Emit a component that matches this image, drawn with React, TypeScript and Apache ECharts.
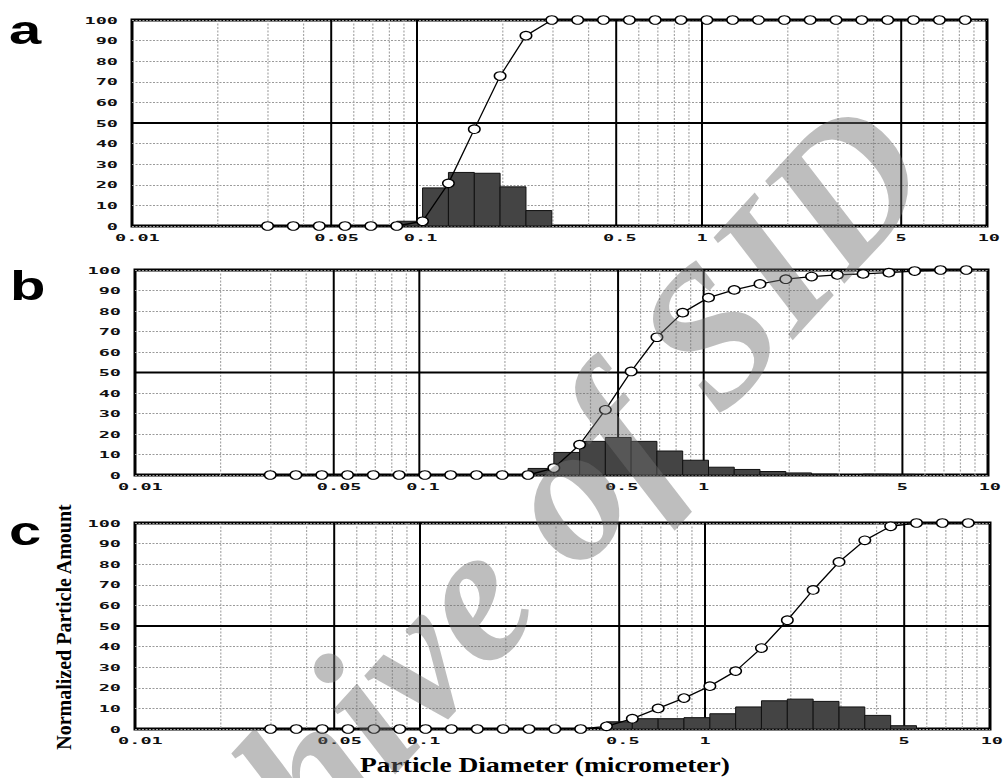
import React, { useEffect, useRef } from 'react';
import * as echarts from 'echarts';

// Particle size classes (micrometer), one per marker
const particleSizes = [
  0.0299, 0.0368, 0.0454, 0.0559, 0.0689, 0.0849, 0.1046, 0.1289, 0.1589, 0.1957,
  0.2412, 0.2972, 0.3662, 0.4511, 0.5559, 0.6849, 0.8438, 1.04, 1.281, 1.578,
  1.945, 2.396, 2.953, 3.637, 4.482, 5.522, 6.805, 8.384,
];

const panelLetters = ['a', 'b', 'c'];

// Cumulative curves (one value per size class)
const cumulativeA = [
  0, 0, 0, 0, 0, 0, 2.3, 20.7, 47, 72.8, 92.4, 100, 100, 100,
  100, 100, 100, 100, 100, 100, 100, 100, 100, 100, 100, 100, 100, 100,
];
const cumulativeB = [
  0, 0, 0, 0, 0, 0, 0, 0, 0, 0, 0, 3.4, 14.8, 31.8,
  50.5, 67.2, 79.2, 86.5, 90.3, 93.2, 95.5, 96.8, 97.6, 98.1, 98.7, 99.5, 100, 100,
];
const cumulativeC = [
  0, 0, 0, 0, 0, 0, 0, 0, 0, 0, 0, 0, 0, 1.3,
  5, 10, 15, 20.8, 28.1, 39.3, 52.8, 67.5, 81.1, 91.6, 98.4, 100, 100, 100,
];

// Histogram (one value per bin between consecutive size classes)
const histogramA = [
  0, 0, 0, 0, 0, 2.3, 18.5, 26, 25.6, 19, 7.5, 0, 0, 0,
  0, 0, 0, 0, 0, 0, 0, 0, 0, 0, 0, 0, 0,
];
const histogramB = [
  0, 0, 0, 0, 0, 0, 0, 0, 0, 0, 3.2, 11, 16.4, 18.3,
  16.4, 11.7, 7.2, 3.8, 2.7, 1.7, 1.0, 0.4, 0, 0.4, 0.3, 0, 0,
];
const histogramC = [
  0, 0, 0, 0, 0, 0, 0, 0, 0, 0, 0, 0, 0, 3.5,
  5, 5, 5.5, 7.4, 10.7, 13.7, 14.5, 13.4, 10.7, 6.6, 1.6, 0, 0,
];

const xLabelValues = [0.01, 0.05, 0.1, 0.5, 1, 5, 10];
const xMajorLines = [0.05, 0.1, 0.5, 1, 5];
const xMinorLines = [
  0.02, 0.03, 0.04, 0.06, 0.07, 0.08, 0.09,
  0.2, 0.3, 0.4, 0.6, 0.7, 0.8, 0.9,
  2, 3, 4, 6, 7, 8, 9,
];
const yTickValues = [0, 10, 20, 30, 40, 50, 60, 70, 80, 90, 100];
const yMajorLines = [50];

const X_MIN = 0.01;
const X_MAX = 10;
const Y_MIN = 0;
const Y_MAX = 100;

const xAxisTitle = 'Particle Diameter (micrometer)';
const yAxisTitle = 'Normalized Particle Amount';
const watermarkText = 'Archive of SID';

// Layout (style only)
const gridBoxes = [
  { left: 132, top: 20, right: 16, height: 206 },
  { left: 135, top: 270, right: 15, height: 205 },
  { left: 135, top: 523, right: 13, height: 206 },
];
const letterPos = [
  { x: 9, y: 30 },
  { x: 10, y: 286 },
  { x: 9, y: 531 },
];

const TICK_FONT = 'bold 9.5px "DejaVu Sans Mono", monospace';

const vLineItem = (params: any, api: any) => {
  const cs = params.coordSys;
  const x = api.coord([api.value(0), 50])[0];
  const major = api.value(1) === 1;
  return {
    type: 'line',
    shape: { x1: x, y1: cs.y, x2: x, y2: cs.y + cs.height },
    style: major
      ? { stroke: '#000', lineWidth: 2 }
      : { stroke: '#a8a8a8', lineWidth: 1.2, lineDash: [2, 1.5] },
  };
};

const hLineItem = (params: any, api: any) => {
  const cs = params.coordSys;
  const y = api.coord([api.value(0), api.value(1)])[1];
  return {
    type: 'line',
    shape: { x1: cs.x, y1: y, x2: cs.x + cs.width, y2: y },
    style: { stroke: '#000', lineWidth: 1.8 },
  };
};

const barItem = (_params: any, api: any) => {
  const p0 = api.coord([api.value(0), 0]);
  const p1 = api.coord([api.value(1), api.value(2)]);
  return {
    type: 'rect',
    shape: { x: p0[0], y: p1[1], width: p1[0] - p0[0], height: p0[1] - p1[1] },
    style: { fill: '#444444', stroke: '#111111', lineWidth: 1 },
  };
};

const xLabelItem = (_params: any, api: any) => {
  const v = api.value(0);
  const p = api.coord([v, Y_MIN]);
  const text = String(v);
  return {
    type: 'text',
    x: p[0] + (text.length - 1) * 1.8,
    y: p[1] + 11.5,
    scaleX: 1.95,
    style: {
      text,
      font: TICK_FONT,
      fill: '#111',
      textAlign: 'center',
      textVerticalAlign: 'middle',
    },
  };
};

const yLabelItem = (_params: any, api: any) => {
  const p = api.coord([api.value(0), api.value(1)]);
  return {
    type: 'text',
    x: p[0] - 14,
    y: p[1],
    scaleX: 1.95,
    style: {
      text: String(api.value(1)),
      font: TICK_FONT,
      fill: '#111',
      textAlign: 'right',
      textVerticalAlign: 'middle',
    },
  };
};

function buildPanelSeries(i: number, cumulative: number[], histogram: number[]) {
  const bars: number[][] = [];
  histogram.forEach((h, k) => {
    if (h > 0) bars.push([particleSizes[k], particleSizes[k + 1], h]);
  });
  const idx = { xAxisIndex: i, yAxisIndex: i };
  return [
    {
      type: 'custom', ...idx, z: 1, silent: true,
      data: [...xMinorLines.map((v) => [v, 0]), ...xMajorLines.map((v) => [v, 1])],
      encode: { x: 0, y: 1 },
      renderItem: vLineItem,
    },
    {
      type: 'custom', ...idx, z: 1, silent: true,
      data: yMajorLines.map((v) => [X_MIN, v]),
      encode: { x: 0, y: 1 },
      renderItem: hLineItem,
    },
    {
      type: 'custom', ...idx, z: 2, silent: true,
      data: bars,
      encode: { x: [0, 1], y: 2 },
      renderItem: barItem,
    },
    {
      type: 'line', ...idx, z: 3, silent: true, clip: false,
      data: particleSizes.map((x, k) => [x, cumulative[k]]),
      symbol: 'circle',
      symbolSize: [11.5, 8.5],
      showSymbol: true,
      lineStyle: { color: '#000', width: 1.3 },
      itemStyle: { color: '#fff', borderColor: '#000', borderWidth: 1.3 },
    },
    {
      type: 'custom', ...idx, z: 4, silent: true,
      data: xLabelValues.map((v) => [v, Y_MIN]),
      encode: { x: 0, y: 1 },
      renderItem: xLabelItem,
    },
    {
      type: 'custom', ...idx, z: 4, silent: true,
      data: yTickValues.map((v) => [X_MIN, v]),
      encode: { x: 0, y: 1 },
      renderItem: yLabelItem,
    },
  ];
}

function buildOption() {
  const cumulatives = [cumulativeA, cumulativeB, cumulativeC];
  const histograms = [histogramA, histogramB, histogramC];
  return {
    animation: false,
    backgroundColor: '#fff',
    grid: gridBoxes.map((g) => ({
      ...g,
      show: true,
      borderColor: '#000',
      borderWidth: 3,
      backgroundColor: 'transparent',
    })),
    xAxis: gridBoxes.map((_, i) => ({
      type: 'log',
      logBase: 10,
      min: X_MIN,
      max: X_MAX,
      gridIndex: i,
      axisLine: { show: false },
      axisTick: { show: false },
      axisLabel: { show: false },
      splitLine: { show: false },
      minorTick: { show: false },
      minorSplitLine: { show: false },
    })),
    yAxis: gridBoxes.map((_, i) => ({
      type: 'value',
      min: Y_MIN,
      max: Y_MAX,
      interval: 10,
      gridIndex: i,
      axisLine: { show: false },
      axisTick: { show: false },
      axisLabel: { show: false },
      splitLine: { show: true, lineStyle: { color: '#9a9a9a', width: 1, type: [2, 1.5] } },
    })),
    series: gridBoxes.flatMap((_, i) => buildPanelSeries(i, cumulatives[i], histograms[i])),
    graphic: [
      ...panelLetters.map((t, i) => ({
        type: 'text',
        x: letterPos[i].x,
        y: letterPos[i].y,
        scaleX: 1.45,
        silent: true,
        style: {
          text: t,
          font: 'bold 40px "Liberation Sans", Arial, sans-serif',
          fill: '#000',
          textAlign: 'left',
          textVerticalAlign: 'middle',
        },
      })),
      {
        type: 'text',
        x: 545,
        y: 764,
        scaleX: 1.25,
        silent: true,
        style: {
          text: xAxisTitle,
          font: 'bold 22px "Liberation Serif", serif',
          fill: '#000',
          textAlign: 'center',
          textVerticalAlign: 'middle',
        },
      },
      {
        type: 'text',
        x: 64,
        y: 627,
        rotation: Math.PI / 2,
        silent: true,
        style: {
          text: yAxisTitle,
          font: 'bold 20px "Liberation Serif", serif',
          fill: '#000',
          textAlign: 'center',
          textVerticalAlign: 'middle',
        },
      },
      {
        type: 'text',
        x: 482,
        y: 582,
        rotation: 0.83,
        z: 100,
        silent: true,
        style: {
          text: watermarkText,
          font: 'italic bold 195px "Liberation Serif", serif',
          fill: 'rgba(110,110,110,0.45)',
          textAlign: 'center',
          textVerticalAlign: 'middle',
        },
      },
    ],
  };
}

export default function App() {
  const ref = useRef<HTMLDivElement>(null);
  useEffect(() => {
    if (!ref.current) return;
    const chart = echarts.init(ref.current, undefined, { renderer: 'svg' });
    chart.setOption(buildOption() as any);
    return () => chart.dispose();
  }, []);
  return (
    <div
      ref={ref}
      style={{ position: 'absolute', left: 0, top: 0, width: 1003, height: 778, background: '#fff' }}
    />
  );
}
